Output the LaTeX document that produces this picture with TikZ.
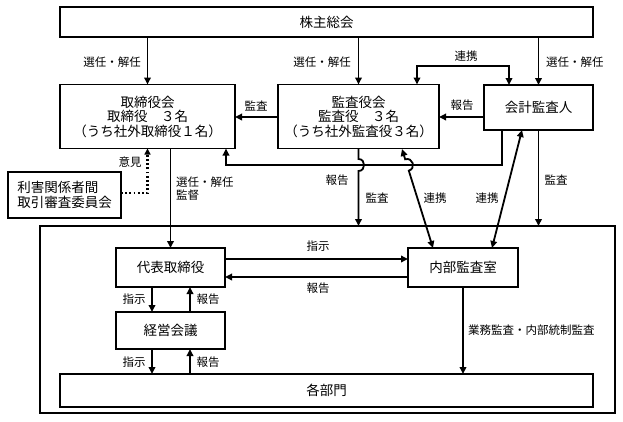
\documentclass[tikz,border=0pt]{standalone}
\usepackage{fontspec}
\setmainfont{Noto Sans CJK JP}
\usetikzlibrary{arrows.meta}
\tikzset{
  box/.style={draw, line width=1.1pt, inner sep=0pt, outer sep=0pt, align=center,
    font=\fontsize{13.5}{14.5}\selectfont},
  lbl/.style={inner sep=0pt, font=\fontsize{11.5}{13}\selectfont},
  arr/.style={line width=1.8pt, -{Triangle[length=7pt,width=6.5pt]}},
  darr/.style={line width=1.8pt, {Triangle[length=7pt,width=6.5pt]}-{Triangle[length=7pt,width=6.5pt]}},
  dots/.style={line width=2.2pt, dash pattern=on 1.8pt off 2.4pt, -{Triangle[length=6pt,width=6pt]}},
}
\begin{document}
\begin{tikzpicture}[x=1pt, y=-1pt]
    \useasboundingbox (0,0) rectangle (623,421);
    % boxes
    \node[box, minimum width=533pt, minimum height=30pt] (kabu) at (326.5, 22) {株主総会};
    \node[box, minimum width=175pt, minimum height=64pt] (tori) at (147.5, 116.5)
        {取締役会\\取締役　３名\\（うち社外取締役１名）};
    \node[box, minimum width=161pt, minimum height=64pt] (kansa) at (358.5, 116.5)
        {監査役会\\監査役　３名\\（うち社外監査役３名）};
    \node[box, minimum width=109pt, minimum height=45pt] (kaikei) at (538.5, 107.5) {会計監査人};
    \node[box, align=left, minimum width=113pt, minimum height=46pt] (rigai) at (64.5, 195)
        {利害関係者間\\取引審査委員会};
    \node[draw, line width=1.1pt, minimum width=575pt, minimum height=187pt, outer sep=0pt] (shanai) at (327.5, 319.5) {};
    \node[box, minimum width=109pt, minimum height=39pt] (daihyo) at (170.5, 267.5) {代表取締役};
    \node[box, minimum width=110pt, minimum height=39pt] (naibu) at (463, 267.5) {内部監査室};
    \node[box, minimum width=109pt, minimum height=37pt] (keiei) at (170.5, 330.5) {経営会議};
    \node[box, minimum width=533pt, minimum height=33pt] (kakubu) at (326.5, 390.5) {各部門};
    % helper coordinates
    \coordinate (r1) at (509, 66);
    \coordinate (r2) at (417, 66);
    \coordinate (h1) at (0, 117);
    \coordinate (b1) at (502, 165);
    \coordinate (b2) at (226, 165);
    \coordinate (d1) at (0, 193);
    \coordinate (s1) at (152, 0);
    \coordinate (s2) at (190, 0);
    \coordinate (c1) at (0, 259);
    \coordinate (c2) at (0, 277);
    % connectors
    \draw[arr] (kabu.south -| tori) -- (tori.north);
    \draw[arr] (kabu.south -| kansa) -- (kansa.north);
    \draw[arr] (kabu.south -| kaikei) -- (kaikei.north);
    \draw[darr] (r1 |- kaikei.north) -- (r1) -- (r2) -- (r2 |- kansa.north);
    \draw[arr] (kaikei.west |- h1) -- (kansa.east |- h1);
    \draw[arr] (kansa.west |- h1) -- (tori.east |- h1);
    \draw[arr] (b1 |- kaikei.south) -- (b1) -- (b2) -- (b2 |- tori.south);
    \draw[arr] (kansa.south) -- (358.5,159) .. controls (366,159) and (366,171) .. (358.5,171)
        -- (kansa.south |- shanai.north);
    \draw[darr] (433,248) -- (408.8,170.7) .. controls (416.4,168.3) and (412.8,156.9) .. (405.2,159.3)
        -- (402,149);
    \draw[darr] (492,248) -- (522,130);
    \draw[arr] (kaikei.south) -- (kaikei.south |- shanai.north);
    \draw[arr] (tori.south -| daihyo) -- (daihyo.north);
    \draw[dots] (rigai.east |- d1) -| (tori.south);
    \draw[arr] (daihyo.east |- c1) -- (naibu.west |- c1);
    \draw[arr] (naibu.west |- c2) -- (daihyo.east |- c2);
    \draw[arr] (daihyo.south -| s1) -- (keiei.north -| s1);
    \draw[arr] (keiei.north -| s2) -- (daihyo.south -| s2);
    \draw[arr] (keiei.south -| s1) -- (kakubu.north -| s1);
    \draw[arr] (kakubu.north -| s2) -- (keiei.south -| s2);
    \draw[arr] (naibu.south) -- (naibu.south |- kakubu.north);
    % labels
    \node[lbl, anchor=east] (l1) at (141, 62) {選任・解任};
    \node[lbl, anchor=east] (l2) at (351, 62) {選任・解任};
    \node[lbl, anchor=west] (l3) at (546, 62) {選任・解任};
    \node[lbl] (l4) at (466, 56) {連携};
    \node[lbl] (l5) at (462, 105) {報告};
    \node[lbl] (l6) at (256, 106) {監査};
    \node[lbl] (l7) at (337, 180) {報告};
    \node[lbl] (l8) at (377, 198) {監査};
    \node[lbl] (l9) at (435, 198) {連携};
    \node[lbl] (l10) at (487, 198) {連携};
    \node[lbl] (l11) at (556, 180) {監査};
    \node[lbl, anchor=west, align=left] (l12) at (176, 189) {選任・解任\\監督};
    \node[lbl] (l13) at (130, 162) {意見};
    \node[lbl] (l14) at (318, 246) {指示};
    \node[lbl] (l15) at (318, 288) {報告};
    \node[lbl] (l16) at (134, 299) {指示};
    \node[lbl] (l17) at (208, 299) {報告};
    \node[lbl] (l18) at (134, 362) {指示};
    \node[lbl] (l19) at (208, 362) {報告};
    \node[lbl, anchor=west] (l20) at (468, 330) {業務監査・内部統制監査};
\end{tikzpicture}
\end{document}
